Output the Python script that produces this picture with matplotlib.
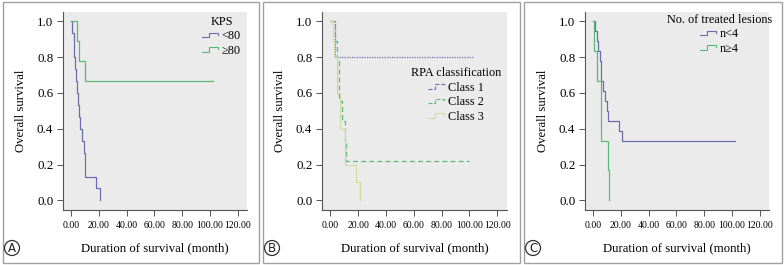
import matplotlib
matplotlib.use("Agg")
import matplotlib.pyplot as plt
from matplotlib.lines import Line2D
from matplotlib.legend_handler import HandlerBase
from matplotlib.patches import Rectangle, Circle

# ---------------- data ----------------
A_lt80_t = [0, 1.0, 2.0, 2.5, 3.0, 3.5, 4.5, 5.0, 5.5, 6.5, 8.0, 9.0, 10.0, 18.0, 21.0]
A_lt80_s = [1.0, 0.933, 0.867, 0.8, 0.733, 0.667, 0.6, 0.533, 0.467, 0.4, 0.333, 0.267, 0.133, 0.067, 0.0]
A_ge80_t = [0, 4.5, 5.5, 10.0, 102.5]
A_ge80_s = [1.0, 0.889, 0.778, 0.667, 0.667]

B_c1_t = [0, 3.5, 102.5]
B_c1_s = [1.0, 0.8, 0.8]
B_c2_t = [0, 3.5, 5.0, 6.0, 8.5, 10.5, 11.0, 100.0]
B_c2_s = [1.0, 0.889, 0.778, 0.556, 0.444, 0.333, 0.222, 0.222]
B_c3_t = [0, 2.0, 3.0, 5.0, 7.0, 10.5, 18.5, 21.5]
B_c3_s = [1.0, 0.9, 0.8, 0.6, 0.4, 0.2, 0.1, 0.0]

C_lt4_t = [0, 1.4, 2.6, 3.6, 5.0, 5.5, 6.0, 7.2, 8.9, 9.8, 10.8, 18.5, 20.9, 102.4]
C_lt4_s = [1.0, 0.944, 0.889, 0.833, 0.778, 0.722, 0.667, 0.611, 0.556, 0.5, 0.444, 0.389, 0.333, 0.333]
C_ge4_t = [0, 1.0, 3.1, 5.5, 6.0, 10.5, 11.5]
C_ge4_s = [1.0, 0.833, 0.667, 0.5, 0.333, 0.167, 0.0]

x_ticks = [0, 20, 40, 60, 80, 100, 120]
x_ticklabels = ["0.00", "20.00", "40.00", "60.00", "80.00", "100.00", "120.00"]
y_ticks = [0.0, 0.2, 0.4, 0.6, 0.8, 1.0]
y_ticklabels = ["0.0", "0.2", "0.4", "0.6", "0.8", "1.0"]

panel_letters = ["A", "B", "C"]
legend_titles = ["KPS", "RPA classification", "No. of treated lesions"]
A_labels = ["<80", "≥80"]
B_labels = ["Class 1", "Class 2", "Class 3"]
C_labels = ["n<4", "n≥4"]

# ---------------- style ----------------
BLUE = "#6c6cac"
GREEN = "#5cb87a"
LIGHT = "#cfdca6"
GREY_BG = "#ebebeb"
SERIF = ["Liberation Serif", "DejaVu Serif"]

W, H = 784, 265
fig = plt.figure(figsize=(W / 100, H / 100), dpi=100)
fig.patch.set_facecolor("white")


class StepHandler(HandlerBase):
    def create_artists(self, legend, orig_handle, xdescent, ydescent, width, height, fontsize, trans):
        x0, x1 = -xdescent, -xdescent + width
        ylo, yhi = -ydescent + height * 0.25, -ydescent + height * 0.75
        xm = x0 + width * 0.45
        xs = [x0, xm, xm, x1, x1]
        ys = [ylo, ylo, yhi, yhi, yhi - height * 0.25]
        ln = Line2D(xs, ys, color=orig_handle.get_color(), lw=0.8,
                    linestyle=orig_handle.get_linestyle(), transform=trans)
        return [ln]


def px_axes(l, r, t, b):
    return fig.add_axes([l / W, 1 - b / H, (r - l) / W, (b - t) / H])


def setup(ax, zero_px, left_px, right_px):
    ppm = 1.39
    ax.set_xlim((left_px - zero_px) / ppm, (right_px - zero_px) / ppm)
    ax.set_ylim(-0.054, 1.052)
    ax.set_facecolor(GREY_BG)
    for s in ["top", "right"]:
        ax.spines[s].set_visible(False)
    for s in ["left", "bottom"]:
        ax.spines[s].set_color("#555555")
        ax.spines[s].set_linewidth(0.8)
    ax.set_xticks(x_ticks)
    ax.set_xticklabels(x_ticklabels, fontfamily=SERIF, fontsize=7.0)
    ax.set_yticks(y_ticks)
    ax.set_yticklabels(y_ticklabels, fontfamily=SERIF, fontsize=9.4)
    ax.tick_params(direction="out", length=4, width=0.7, color="#555555", pad=3)
    ax.tick_params(axis="x", pad=4)
    ax.set_xlabel("Duration of survival (month)", fontfamily=SERIF, fontsize=9.2, labelpad=9)
    ax.set_ylabel("Overall survival", fontfamily=SERIF, fontsize=9.2, labelpad=7)


panels = [(3, 259), (263, 520), (524, 782)]
axes_px = [(63, 247, 12, 210, 71), (322, 507, 12, 210, 330.3), (585, 769, 12, 210, 593)]

axs = []
for (l, r, t, b, z) in axes_px:
    ax = px_axes(l, r, t, b)
    setup(ax, z, l, r)
    axs.append(ax)

# panel frames and circled letters
for (pl, pr), letter in zip(panels, panel_letters):
    fig.patches.append(Rectangle((pl / W, 2 / H), (pr - pl) / W, (H - 4) / H,
                                 transform=fig.transFigure, fill=False,
                                 edgecolor="#a0a0a0", lw=1.0))
    cx, cy = (pl + 9) / W, 1 - 248 / H
    fig.patches.append(Circle((pl + 9, H - 248), 7.5, transform=None, fill=False,
                              edgecolor="#333333", lw=0.9))
    fig.text(cx, cy, letter, ha="center", va="center", fontsize=8.5,
             family="DejaVu Sans", color="#222222")

leg_kw = dict(frameon=False, handler_map={Line2D: StepHandler()}, handlelength=1.3,
              handletextpad=0.3, labelspacing=0.2, borderpad=0.3,
              prop={"family": SERIF, "size": 8.8},
              title_fontproperties={"family": SERIF, "size": 8.8})

# Panel A
axA = axs[0]
hA1, = axA.step(A_lt80_t, A_lt80_s, where="post", color=BLUE, lw=0.9)
hA2, = axA.step(A_ge80_t, A_ge80_s, where="post", color=GREEN, lw=0.9)
axA.legend([hA1, hA2], A_labels, title=legend_titles[0], loc="upper right",
           bbox_to_anchor=(1.02, 1.03), **leg_kw)

# Panel B
axB = axs[1]
hB1, = axB.step(B_c1_t, B_c1_s, where="post", color=BLUE, lw=0.9, linestyle=(0, (1, 1)))
hB2, = axB.step(B_c2_t, B_c2_s, where="post", color=GREEN, lw=0.9, linestyle=(0, (4, 2.5)))
hB3, = axB.step(B_c3_t, B_c3_s, where="post", color=LIGHT, lw=0.9)
axB.legend([hB1, hB2, hB3], B_labels, title=legend_titles[1], loc="upper right",
           bbox_to_anchor=(1.02, 0.77), **leg_kw)

# Panel C
axC = axs[2]
hC1, = axC.step(C_lt4_t, C_lt4_s, where="post", color=BLUE, lw=0.9)
hC2, = axC.step(C_ge4_t, C_ge4_s, where="post", color=GREEN, lw=0.9)
axC.legend([hC1, hC2], C_labels, title=legend_titles[2], loc="upper right",
           bbox_to_anchor=(1.07, 1.04), **leg_kw)

fig.savefig("out.png", dpi=100)
